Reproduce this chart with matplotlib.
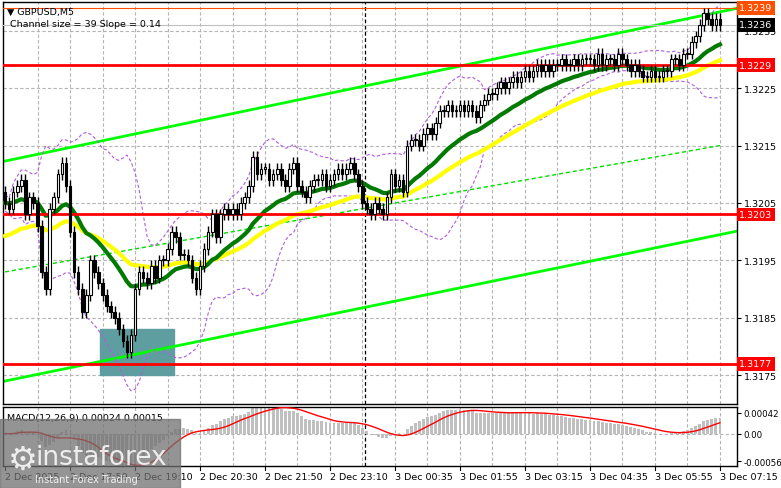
import matplotlib
matplotlib.use("Agg")
import matplotlib.pyplot as plt
import matplotlib.transforms as mtrans
import numpy as np
import pandas as pd

closes = [
 1.3205,1.3204,1.3207,1.3208,1.3209,1.3203,1.3206,1.3205,
 1.3201,1.3193,1.3190,1.3204,1.3206,1.3210,1.3212,1.3208,
 1.3200,1.3193,1.3190,1.3186,1.3189,1.3195,1.3193,1.3191,
 1.3189,1.3187,1.3186,1.3185,1.3183,1.3181,1.3179,1.3182,
 1.3190,1.3193,1.3192,1.3191,1.3194,1.3192,1.3195,1.3195,
 1.3197,1.3200,1.3199,1.3196,1.3196,1.3195,1.3192,1.3190,
 1.3194,1.3197,1.3200,1.3203,1.3199,1.3203,1.3204,1.3203,
 1.3204,1.3203,1.3205,1.3206,1.3208,1.3213,1.3210,1.3211,
 1.3211,1.3209,1.3210,1.3211,1.3209,1.3208,1.3211,1.3212,
 1.3208,1.3207,1.3206,1.3208,1.3209,1.3209,1.3210,1.3208,
 1.3209,1.3210,1.3211,1.3210,1.3211,1.3212,1.3210,1.3208,
 1.3205,1.3204,1.3203,1.3205,1.3204,1.3203,1.3206,1.3210,
 1.3208,1.3209,1.3207,1.3215,1.3216,1.3216,1.3215,1.3217,
 1.3218,1.3217,1.3219,1.3221,1.3221,1.3222,1.3221,1.3221,
 1.3222,1.3221,1.3222,1.3221,1.3220,1.3222,1.3223,1.3224,
 1.3224,1.3225,1.3226,1.3225,1.3226,1.3227,1.3226,1.3227,
 1.3228,1.3227,1.3228,1.3229,1.3228,1.3229,1.3228,1.3229,
 1.3229,1.3230,1.3229,1.3229,1.3230,1.3229,1.3230,1.3230,
 1.3230,1.3229,1.3231,1.3229,1.3230,1.3230,1.3229,1.3231,
 1.3230,1.3229,1.3228,1.3229,1.3228,1.3227,1.3227,1.3228,
 1.3227,1.3227,1.3228,1.3228,1.3230,1.3230,1.3229,1.3231,
 1.3231,1.3233,1.3234,1.3236,1.3238,1.3237,1.3236,1.3237,1.3236]
first_open = 1.3207
wick = 0.0001

# long MA (green dashed), one value per 8 bars
long_ma = [1.3193,1.3194,1.3195,1.3196,1.3197,1.3198,1.3199,1.3200,1.3201,1.3202,1.3203,
           1.3204,1.3205,1.3206,1.3207,1.3208,1.3209,1.3210,1.3211,1.3212,1.3213,1.3214,1.3215]

levels_red = [1.3229, 1.3203, 1.3177]
level_top = 1.3239
bid = 1.3236
chan_upper = [1.32123, 1.32389]
chan_lower = [1.31740, 1.32001]
chan_x = [0, 180.2]
zone_x = [23.5, 41.5]
zone_y = [1.31751, 1.31831]
price_ticks = [1.3175, 1.3185, 1.3195, 1.3205, 1.3215, 1.3225, 1.3235]
time_labels = ["2 Dec 2025","2 Dec 17:50","2 Dec 19:10","2 Dec 20:30","2 Dec 21:50","2 Dec 23:10",
               "3 Dec 00:35","3 Dec 01:55","3 Dec 03:15","3 Dec 04:35","3 Dec 05:55","3 Dec 07:15"]
macd_ticks = [0.00042, 0.0, -0.00056]

c = pd.Series(closes)
o = pd.Series([first_open] + closes[:-1])
n = len(closes)
idx = np.arange(n)
hi = np.maximum(o, c) + wick
lo = np.minimum(o, c) - wick
ma_g = c.ewm(span=22, adjust=False).mean()
ma_y = pd.Series([1.3199] + closes).ewm(span=45, adjust=False).mean()[1:].reset_index(drop=True)
bb_m = c.rolling(20, min_periods=1).mean()
bb_s = c.rolling(20, min_periods=2).std().bfill()
macd = 1.35 * (c.ewm(span=12, adjust=False).mean() - c.ewm(span=26, adjust=False).mean())
sig = macd.rolling(9, min_periods=1).mean()

W, H = 781, 489
fig = plt.figure(figsize=(W/100, H/100), dpi=100)
fig.patch.set_facecolor("white")
L, R = 3/W, 737/W
ax = fig.add_axes([L, 1-405/H, R-L, (405-3)/H])
am = fig.add_axes([L, 1-467/H, R-L, (467-408)/H])
XL = (-0.5, 180.2)
FS = 6.8
for a in (ax, am):
    a.set_xlim(*XL)
    for s in a.spines.values():
        s.set_color("black"); s.set_linewidth(1)
    a.tick_params(left=False, labelleft=False, bottom=False, labelbottom=False,
                  right=True, labelright=True, direction="out", length=3, labelsize=FS, pad=2)
    for g in range(8, 181, 8):
        a.axvline(g, color="#b4b4b4", ls=(0, (3, 2)), lw=0.8, zorder=0)
    a.axvline(88.5, color="black", ls=(0, (3, 2)), lw=0.9, zorder=1)
am.tick_params(labelsize=6.2, pad=1.5)

ax.set_ylim(1.31700, 1.32400)
ax.set_yticks(price_ticks)
ax.set_yticklabels([f"{p:.4f}" for p in price_ticks])
for p in price_ticks:
    ax.axhline(p, color="#b4b4b4", ls=(0, (3, 2)), lw=0.8, zorder=0)

ax.fill_between(zone_x, zone_y[0], zone_y[1], color="#5f9ea0", zorder=1)
ax.plot(chan_x, chan_upper, color="#00ff00", lw=2, zorder=2)
ax.plot(chan_x, chan_lower, color="#00ff00", lw=2, zorder=2)
ax.plot(np.arange(len(long_ma))*8, long_ma, color="#00dd00", lw=1, ls=(0, (3, 2)), zorder=2)
ax.plot(idx, bb_m + 2*bb_s, color="#b05ce0", lw=0.8, ls=(0, (3, 2)), zorder=2)
ax.plot(idx, bb_m - 2*bb_s, color="#b05ce0", lw=0.8, ls=(0, (3, 2)), zorder=2)
ax.plot(idx, ma_y, color="#ffff00", lw=3, zorder=3)
ax.plot(idx, ma_g, color="#007a00", lw=3, zorder=3)
for lv in levels_red:
    ax.axhline(lv, color="#ff0000", lw=2, zorder=3)
ax.axhline(level_top, color="#ff5000", lw=0.8, zorder=3)
ax.axhline(bid, color="#c0c0c0", lw=0.8, zorder=3)

bull = c >= o
ax.vlines(idx, lo, hi, color="black", lw=1, zorder=4)
ax.bar(idx[bull], (c-o)[bull].where((c-o)[bull].abs() > 0.00002, 0.00002), bottom=o[bull], width=0.65,
       color="white", edgecolor="black", lw=0.8, zorder=5)
ax.bar(idx[~bull], (c-o)[~bull], bottom=o[~bull], width=0.65, color="black", edgecolor="black", lw=0.8, zorder=5)

tr = mtrans.blended_transform_factory(ax.transAxes, ax.transData)
def lab(y, txt, bg, fg):
    ax.text(1.003, y, txt, transform=tr, fontsize=FS, color=fg, va="center", ha="left",
            bbox=dict(boxstyle="square,pad=0.25", fc=bg, ec="none"), zorder=10, clip_on=False)
lab(level_top, "1.3239", "#ff5000", "white")
lab(bid, "1.3236", "black", "white")
for lv in levels_red:
    lab(lv, f"{lv:.4f}", "#ff0000", "white")

ax.text(0.006, 0.988, "\u25bc GBPUSD,M5", transform=ax.transAxes, fontsize=FS, va="top", ha="left")
ax.text(0.01, 0.958, "Channel size = 39 Slope = 0.14", transform=ax.transAxes, fontsize=FS, va="top", ha="left")

am.set_ylim(-0.00066, 0.00054)
am.set_yticks(macd_ticks)
am.set_yticklabels(["0.00042", "0.00", "-0.00056"])
am.axhline(0, color="#b4b4b4", ls=(0, (3, 2)), lw=0.8, zorder=0)
am.bar(idx, macd, width=0.7, color="#c0c0c0", zorder=2)
am.plot(idx, sig, color="#ff0000", lw=1, zorder=3)
am.text(0.006, 0.9, "MACD(12,26,9) 0.00024 0.00015", transform=am.transAxes, fontsize=FS, va="top", ha="left")

for k, t in enumerate(time_labels):
    x = L + (k*16 - XL[0]) / (XL[1]-XL[0]) * (R-L)
    fig.text(x, 1-478/H, t, fontsize=FS, ha="left", va="center")
    fig.add_artist(plt.Line2D([x, x], [1-467/H, 1-471/H], color="black", lw=0.8))

# watermark
fig.patches.append(plt.Rectangle((0, 0), 180/W, (489-420)/H, transform=fig.transFigure,
                                 color="#707070", alpha=0.75, zorder=20))
fig.text(35/W, 1-458/H, "instaforex", fontsize=19, color="white", alpha=0.85, zorder=21, ha="left", va="center")
fig.text(35/W, 1-480/H, "Instant Forex Trading", fontsize=7, color="white", alpha=0.85, zorder=21, ha="left", va="center")
fig.text(8/W, 1-460/H, "\u2699", fontsize=24, color="white", alpha=0.85, zorder=21, ha="left", va="center")

fig.savefig("out.png", dpi=100)
